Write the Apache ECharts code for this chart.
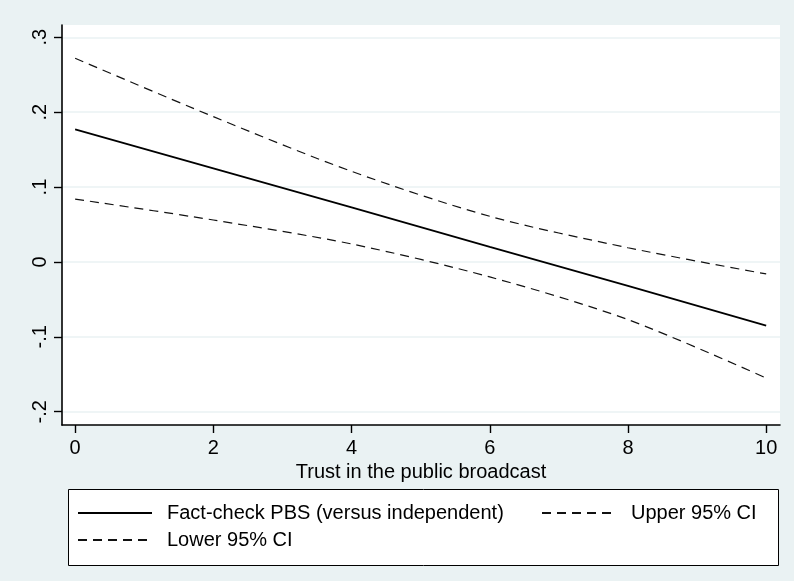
<!DOCTYPE html>
<html>
<head>
<meta charset="utf-8">
<script src="https://cdn.jsdelivr.net/npm/echarts@6/dist/echarts.min.js"></script>
<style>
  html, body { margin: 0; padding: 0; background: #eaf2f3; }
  #chart { width: 794px; height: 581px; }
</style>
</head>
<body>
<div id="chart"></div>
<script>
// ---- data ----
const xValues  = [0, 2, 4, 6, 8, 10];
const estimate = [0.177, 0.125, 0.073, 0.020, -0.032, -0.085];
const upperCI  = [0.272, 0.194, 0.121, 0.061, 0.019, -0.016];
const lowerCI  = [0.084, 0.056, 0.024, -0.020, -0.077, -0.155];
const xTicks = [0, 2, 4, 6, 8, 10];
const yTicks = [-0.2, -0.1, 0, 0.1, 0.2, 0.3];
const yTickLabels = ['-.2', '-.1', '0', '.1', '.2', '.3'];
const seriesNames = ['Fact-check PBS (versus independent)', 'Upper 95% CI', 'Lower 95% CI'];
const xTitle = 'Trust in the public broadcast';

const pairs = arr => xValues.map((x, i) => [x, arr[i]]);
const FONT = '"Liberation Sans", Arial, sans-serif';
const FS = 20;

const legendText = { fontSize: FS, fontFamily: FONT, color: '#000', padding: [0, 0, 0, 10] };
const legendCommon = { itemWidth: 74, itemHeight: 14, padding: 0, itemStyle: { opacity: 0 }, textStyle: legendText };

const chart = echarts.init(document.getElementById('chart'));
chart.setOption({
  backgroundColor: '#eaf2f3',
  animation: false,
  textStyle: { fontFamily: FONT, color: '#000' },
  grid: {
    left: 62, right: 14, top: 25, bottom: 156,
    show: true, backgroundColor: '#ffffff', borderWidth: 0
  },
  xAxis: {
    type: 'value', min: -0.19, max: 10.2,
    name: xTitle, nameLocation: 'middle', nameGap: 31,
    nameTextStyle: { fontSize: FS, fontFamily: FONT, color: '#000' },
    axisLine: { show: true, onZero: false, lineStyle: { color: '#000', width: 1.6 } },
    axisTick: { show: true, customValues: xTicks, length: 8, lineStyle: { color: '#000', width: 1.4 } },
    axisLabel: { customValues: xTicks, margin: 13, fontSize: FS, fontFamily: FONT, color: '#000' },
    splitLine: { show: false }
  },
  yAxis: {
    type: 'value', min: -0.2177, max: 0.3164,
    axisLine: { show: true, onZero: false, lineStyle: { color: '#000', width: 1.6 } },
    axisTick: { show: true, customValues: yTicks, length: 8, lineStyle: { color: '#000', width: 1.4 } },
    axisLabel: {
      customValues: yTicks, rotate: 90, margin: 12, fontSize: FS, fontFamily: FONT, color: '#000',
      formatter: v => {
        let best = 0;
        yTicks.forEach((t, i) => { if (Math.abs(t - v) < Math.abs(yTicks[best] - v)) best = i; });
        return yTickLabels[best];
      }
    },
    splitLine: { show: true, lineStyle: { color: '#eaf2f3', width: 1.5 } }
  },
  legend: [
    Object.assign({ data: [seriesNames[0]], left: 77, top: 503 }, legendCommon),
    Object.assign({ data: [seriesNames[1]], left: 541, top: 503 }, legendCommon),
    Object.assign({ data: [seriesNames[2]], left: 77, top: 530 }, legendCommon)
  ],
  graphic: [{
    type: 'rect', left: 68, top: 489, z: -1,
    shape: { width: 710, height: 76 },
    style: { fill: '#ffffff', stroke: '#000', lineWidth: 1 }
  }],
  series: [
    { name: seriesNames[0], type: 'line', data: pairs(estimate), symbol: 'none', z: 3,
      lineStyle: { color: '#000', width: 1.8, type: 'solid' }, itemStyle: { color: '#000' } },
    { name: seriesNames[1], type: 'line', data: pairs(upperCI), symbol: 'none', smooth: 0.3, z: 3,
      lineStyle: { color: '#111', width: 1.2, type: [9, 6] }, itemStyle: { color: '#111' } },
    { name: seriesNames[2], type: 'line', data: pairs(lowerCI), symbol: 'none', smooth: 0.3, z: 3,
      lineStyle: { color: '#111', width: 1.2, type: [9, 6] }, itemStyle: { color: '#111' } }
  ]
});
</script>
</body>
</html>
